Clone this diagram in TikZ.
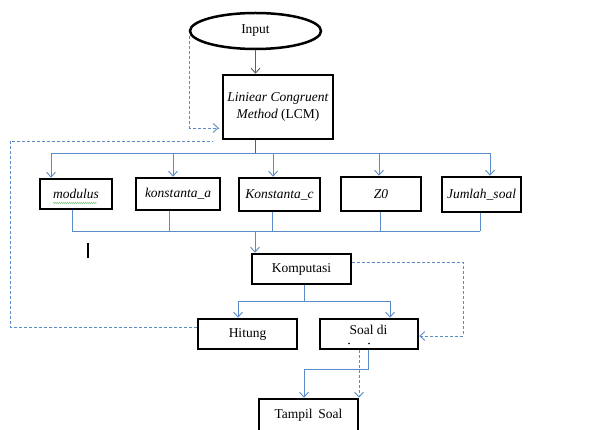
\documentclass[tikz,border=0pt]{standalone}
\usepackage{fontspec}
\setmainfont{Liberation Serif}
\usetikzlibrary{arrows.meta,shapes.geometric,decorations.pathmorphing}
\definecolor{lineblue}{HTML}{5B8BC8}
\definecolor{linegray}{HTML}{606060}
\definecolor{spellgreen}{HTML}{7CC07C}
\begin{document}
\begin{tikzpicture}[x=1pt,y=-1pt,
  txt/.style={font=\fontsize{13.5}{16}\selectfont},
  box/.style={draw=black,line width=2.5pt,fill=white,rectangle,inner sep=0pt,txt},
  bl/.style={draw=lineblue,line width=0.9pt},
  arr/.style={bl,-{Straight Barb[length=5pt,width=9pt]}},
  dsh/.style={draw=lineblue,line width=0.9pt,dash pattern=on 3pt off 2pt},
  darr/.style={dsh,-{Straight Barb[length=5pt,width=9pt]}}]
\useasboundingbox (0,0) rectangle (611,430);
\fill[white] (0,0) rectangle (611,430);
% nodes
\node[box,ellipse,minimum width=131pt,minimum height=36pt] (input) at (255.5,31) {Input};
\node[box,minimum width=110pt,minimum height=64pt,align=center] (lcm) at (278,107) {\textit{Liniear Congruent}\\[1pt]\textit{Method} (LCM)};
\node[box,minimum width=72pt,minimum height=30pt] (mod) at (76,194) {\textit{modulus}};
\node[box,minimum width=84pt,minimum height=32pt] (ka) at (178,194) {\textit{konstanta\_a}};
\node[box,minimum width=81pt,minimum height=33pt] (kc) at (279.5,194.5) {\textit{Konstanta\_c}};
\node[box,minimum width=80pt,minimum height=34pt] (z0) at (381,194) {\textit{Z0}};
\node[box,minimum width=79pt,minimum height=35pt] (js) at (481.5,194.5) {\textit{Jumlah\_soal}};
\node[box,minimum width=99pt,minimum height=30pt] (komp) at (301.5,269) {Komputasi};
\node[box,minimum width=99pt,minimum height=30pt] (hit) at (247.5,334) {Hitung};
\node[box,minimum width=98pt,minimum height=30pt] (soal) at (369,334) {};
\node[txt] (soaltxt) at (368.5,330) {Soal di};
\node[box,minimum width=99pt,minimum height=32pt] (tampil) at (308.5,415) {Tampil\, Soal};
% small artefacts
\fill (349,343.5) circle (0.9pt);
\fill (369,343.5) circle (0.9pt);
\draw[line width=1.3pt] (88,243) -- (88,258);
\draw[spellgreen,line width=0.45pt,decorate,decoration={snake,amplitude=0.7pt,segment length=2pt}] (53,203) -- (97,203);
% coordinates
\coordinate (a0) at (255,153);
\coordinate (a1) at (51,153);
\coordinate (a2) at (173,153);
\coordinate (a3) at (273,153);
\coordinate (a4) at (379,153);
\coordinate (a5) at (490,153);
\coordinate (c0) at (255,231);
\coordinate (c1) at (72,231);
\coordinate (c2) at (169,231);
\coordinate (c3) at (272,231);
\coordinate (c4) at (380,231);
\coordinate (c5) at (480,231);
\coordinate (k0) at (304,301);
\coordinate (k1) at (238,301);
\coordinate (k2) at (390,301);
\coordinate (s0) at (368,369);
\coordinate (s1) at (304,369);
\coordinate (s2) at (359,369);
\coordinate (d1) at (463,262);
\coordinate (d2) at (463,336);
\coordinate (e1) at (10,327);
\coordinate (e2) at (10,141);
\coordinate (e3) at (213,141);
\coordinate (f1) at (189.5,36);
\coordinate (f2) at (189.5,128);
% connectors
\draw[linegray,line width=0.9pt,-{Straight Barb[length=5pt,width=9pt]}] (input.south) -- (input.south |- lcm.north);
\draw[linegray,line width=0.9pt] (a0 |- lcm.south) -- (a0);
\draw[bl] (a1) -- (a5);
\draw[arr] (a1) -- (a1 |- mod.north);
\draw[arr] (a2) -- (a2 |- ka.north);
\draw[arr] (a3) -- (a3 |- kc.north);
\draw[arr] (a4) -- (a4 |- z0.north);
\draw[arr] (a5) -- (a5 |- js.north);
\draw[bl] (c1 |- mod.south) -- (c1);
\draw[bl] (c2 |- ka.south) -- (c2);
\draw[bl] (c3 |- kc.south) -- (c3);
\draw[bl] (c4 |- z0.south) -- (c4);
\draw[bl] (c5 |- js.south) -- (c5);
\draw[bl] (c1) -- (c5);
\draw[arr] (c0) -- (c0 |- komp.north);
\draw[bl] (k0 |- komp.south) -- (k0);
\draw[bl] (k1) -- (k2);
\draw[arr] (k1) -- (k1 |- hit.north);
\draw[arr] (k2) -- (k2 |- soal.north);
\draw[darr] (komp.east |- d1) -- (d1) -- (d2) -- (d2 -| soal.east);
\draw[dsh] (e1 -| hit.west) -- (e1) -- (e2) -- (e3);
\draw[darr,shorten >=3pt] (f1) -- (f2) -- (f2 -| lcm.west);
\draw[bl] (s0 |- soal.south) -- (s0) -- (s1);
\draw[arr] (s1) -- (s1 |- tampil.north);
\draw[darr] (s2 |- soal.south) -- (s2 |- tampil.north);
\end{tikzpicture}
\end{document}
